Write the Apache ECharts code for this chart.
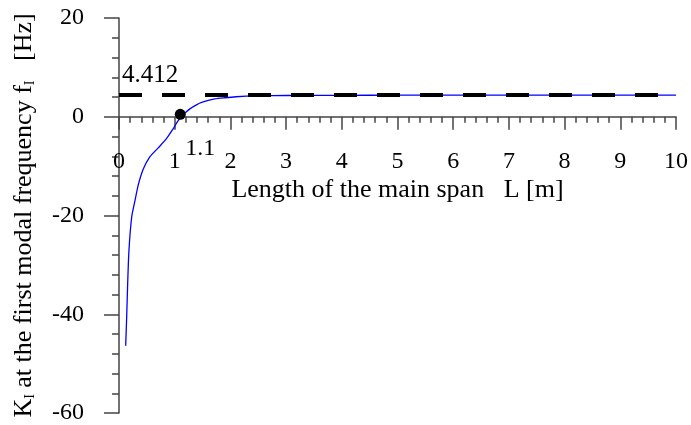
<!DOCTYPE html>
<html>
<head>
<meta charset="utf-8">
<script src="https://cdn.jsdelivr.net/npm/echarts@6/dist/echarts.min.js"></script>
<style>
  html, body { margin: 0; padding: 0; background: #fff; }
  #chart { width: 691px; height: 425px; }
</style>
</head>
<body>
<div id="chart"></div>
<script>
// Span length L [m] and the corresponding K_I value
const spanLength = [0.12, 0.138, 0.156, 0.179, 0.228, 0.287, 0.346, 0.436, 0.556, 0.705, 0.855, 0.974, 1.063, 1.18, 1.273, 1.39, 1.483, 1.72, 1.9, 2.1, 2.5, 3, 4, 5, 6, 7, 8, 9, 10];
const kValue =     [-46.4, -40.5, -33.7, -27.0, -20.3, -17.0, -13.8, -10.6, -8.1, -6.3, -4.4, -2.4, -0.8, 0.7, 1.6, 2.4, 2.9, 3.6, 3.85, 4.05, 4.22, 4.3, 4.34, 4.36, 4.37, 4.38, 4.38, 4.38, 4.39];

// Asymptotic value of the first modal frequency
const asymptote = 4.412;
// Span length where K_I changes sign
const crossing = [1.1, 0.5];

const xRange = { min: 0, max: 10, interval: 1 };
const yRange = { min: -60, max: 20, interval: 20 };

const FONT = '"Liberation Serif", "DejaVu Serif", serif';
const AXIS_COLOR = '#444';

// Plot area geometry
const W = 691, H = 425;
const PLOT = { left: 119, right: 15, top: 18, bottom: 12 };
const plotH = H - PLOT.top - PLOT.bottom;
// pixel row of y = 0 inside the plot area
const zeroY = PLOT.top + plotH * (yRange.max - 0) / (yRange.max - yRange.min);

const tickLine = { color: AXIS_COLOR, width: 1.5 };

const chart = echarts.init(document.getElementById('chart'));
chart.setOption({
  animation: false,
  backgroundColor: '#fff',
  grid: [
    // data area (full height)
    { left: PLOT.left, right: PLOT.right, top: PLOT.top, bottom: PLOT.bottom, outerBoundsMode: 'none', containLabel: false },
    // upper band whose bottom edge sits on y = 0, carrying the L axis
    { left: PLOT.left, right: PLOT.right, top: PLOT.top, bottom: H - zeroY, outerBoundsMode: 'none', containLabel: false }
  ],
  xAxis: [
    {
      gridIndex: 0, type: 'value',
      min: xRange.min, max: xRange.max, interval: xRange.interval,
      show: false
    },
    {
      gridIndex: 1, type: 'value', position: 'bottom',
      min: xRange.min, max: xRange.max, interval: xRange.interval,
      name: 'Length of the main span   L [m]',
      nameLocation: 'middle',
      nameGap: 60,
      nameTextStyle: { fontFamily: FONT, fontSize: 26, color: '#000' },
      axisLine: { onZero: false, lineStyle: tickLine },
      axisTick: { show: true, length: 13, lineStyle: tickLine },
      minorTick: { show: true, splitNumber: 5, length: 6, lineStyle: tickLine },
      axisLabel: { fontFamily: FONT, fontSize: 24, color: '#000', margin: 33 },
      splitLine: { show: false }
    }
  ],
  yAxis: [
    {
      gridIndex: 0, type: 'value',
      min: yRange.min, max: yRange.max, interval: yRange.interval,
      name: 'K{sub|I} at the first modal frequency f{sub|I}   [Hz]',
      nameLocation: 'middle',
      nameGap: 82,
      nameRotate: 90,
      nameTextStyle: {
        fontFamily: FONT, fontSize: 26, color: '#000',
        rich: { sub: { fontFamily: FONT, fontSize: 14, color: '#000', verticalAlign: 'bottom', padding: [12, 0, 0, 0] } }
      },
      axisLine: { show: true, onZero: false, lineStyle: tickLine },
      axisTick: { show: true, length: 15, lineStyle: tickLine },
      minorTick: { show: true, splitNumber: 5, length: 7, lineStyle: tickLine },
      axisLabel: { fontFamily: FONT, fontSize: 24, color: '#000', margin: 35 },
      splitLine: { show: false }
    },
    {
      gridIndex: 1, type: 'value', min: 0, max: yRange.max, show: false
    }
  ],
  series: [
    {
      type: 'line',
      xAxisIndex: 0, yAxisIndex: 0,
      data: spanLength.map((x, i) => [x, kValue[i]]),
      smooth: 0.25,
      showSymbol: false,
      lineStyle: { color: '#0000ff', width: 1.3 },
      z: 3,
      markLine: {
        silent: true,
        symbol: 'none',
        data: [{ yAxis: asymptote }],
        lineStyle: { color: '#000', width: 4, type: [23, 20], cap: 'butt' },
        label: {
          show: true,
          position: 'insideStartTop',
          formatter: String(asymptote),
          fontFamily: FONT, fontSize: 25, color: '#000',
          distance: [3, 7]
        }
      }
    },
    {
      type: 'scatter',
      xAxisIndex: 0, yAxisIndex: 0,
      data: [crossing],
      symbol: 'circle',
      symbolSize: 11,
      itemStyle: { color: '#000', opacity: 1 },
      z: 4,
      label: {
        show: true,
        position: 'bottom',
        formatter: String(crossing[0]),
        fontFamily: FONT, fontSize: 24, color: '#000', opacity: 1,
        offset: [20, 12]
      }
    }
  ]
});
</script>
</body>
</html>
